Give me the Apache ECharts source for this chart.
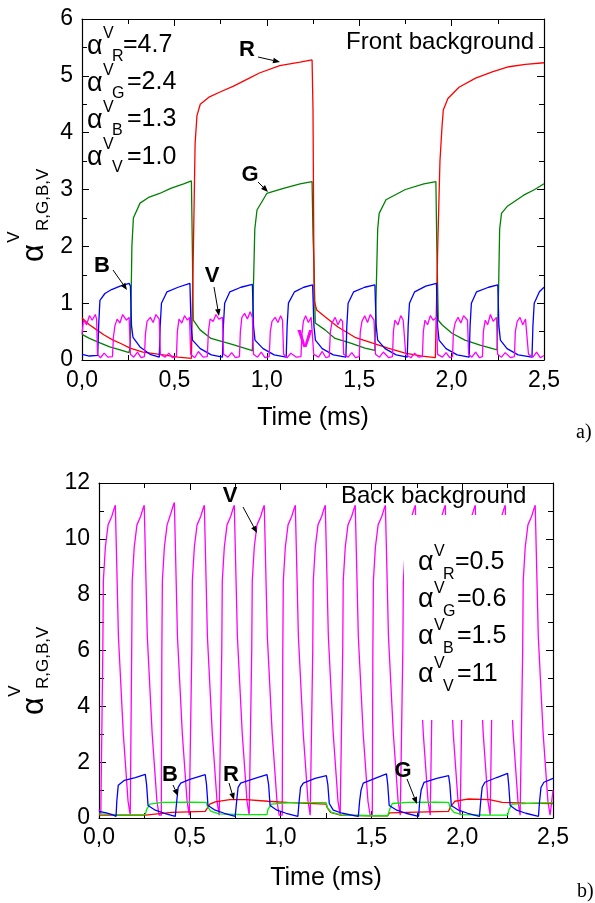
<!DOCTYPE html>
<html><head><meta charset="utf-8">
<script src="https://cdn.jsdelivr.net/npm/echarts@6/dist/echarts.min.js"></script>
<style>html,body{margin:0;padding:0;background:#fff}#c{width:595px;height:903px}</style>
</head><body><div id="c"></div>
<script>
// ---------- tick labels ----------
const xTickLabels = ['0,0','0,5','1,0','1,5','2,0','2,5'];
const yTickLabelsTop = ['0','1','2','3','4','5','6'];
const yTickLabelsBottom = ['0','2','4','6','8','10','12'];

// ---------- panel a) Front background : [time ms, alpha] ----------
const topRed = [[0,0.74],[0.04,0.62],[0.08,0.53],[0.12,0.44],[0.168,0.35],[0.21,0.29],[0.26,0.21],[0.33,0.14],[0.44,0.09],[0.52,0.05],[0.592,0.03],[0.597,0.05],[0.603,2.0],[0.612,3.8],[0.622,4.3],[0.64,4.5],[0.69,4.63],[0.75,4.72],[0.82,4.82],[0.9,4.95],[0.96,5.05],[1.07,5.18],[1.18,5.24],[1.245,5.28],[1.25,4.4],[1.256,1.05],[1.27,0.88],[1.315,0.76],[1.385,0.58],[1.477,0.4],[1.569,0.3],[1.656,0.21],[1.748,0.12],[1.84,0.07],[1.912,0.04],[1.918,0.05],[1.925,2.0],[1.937,3.5],[1.948,4.1],[1.955,4.4],[1.98,4.6],[2.04,4.8],[2.13,4.96],[2.22,5.07],[2.31,5.16],[2.4,5.2],[2.5,5.23]];
const topGreen = [[0,0.45],[0.04,0.38],[0.097,0.3],[0.15,0.23],[0.206,0.18],[0.255,0.13],[0.262,0.3],[0.27,2.0],[0.278,2.5],[0.314,2.76],[0.36,2.86],[0.42,2.93],[0.48,3.02],[0.55,3.1],[0.592,3.15],[0.597,2.0],[0.602,0.7],[0.639,0.53],[0.698,0.38],[0.817,0.27],[0.909,0.18],[0.922,0.16],[0.927,1.2],[0.935,2.3],[0.947,2.64],[1.0,2.93],[1.09,3.02],[1.18,3.1],[1.245,3.14],[1.25,2.2],[1.256,1.6],[1.262,0.65],[1.315,0.53],[1.369,0.38],[1.45,0.3],[1.531,0.21],[1.585,0.17],[1.592,1.2],[1.6,2.3],[1.608,2.58],[1.645,2.82],[1.75,3.0],[1.85,3.1],[1.915,3.14],[1.92,2.0],[1.928,0.7],[1.948,0.62],[2.002,0.47],[2.072,0.35],[2.154,0.26],[2.246,0.18],[2.25,0.18],[2.254,1.2],[2.26,2.3],[2.27,2.58],[2.3,2.7],[2.39,2.9],[2.45,3.0],[2.5,3.1]];
const topBlue = [[0,0.1],[0.04,0.07],[0.085,0.08],[0.09,0.6],[0.097,1.05],[0.124,1.17],[0.16,1.24],[0.206,1.3],[0.255,1.35],[0.262,1.3],[0.268,0.6],[0.276,0.4],[0.314,0.23],[0.368,0.1],[0.418,0.05],[0.423,0.6],[0.43,1.0],[0.46,1.2],[0.52,1.28],[0.584,1.35],[0.59,0.6],[0.598,0.35],[0.64,0.2],[0.7,0.09],[0.76,0.05],[0.765,0.6],[0.772,1.0],[0.8,1.2],[0.86,1.28],[0.922,1.33],[0.928,0.6],[0.936,0.35],[0.98,0.2],[1.04,0.09],[1.105,0.05],[1.11,0.6],[1.117,1.0],[1.15,1.2],[1.2,1.28],[1.248,1.32],[1.255,0.6],[1.263,0.35],[1.3,0.2],[1.36,0.09],[1.428,0.05],[1.433,0.6],[1.44,1.0],[1.47,1.2],[1.53,1.28],[1.585,1.32],[1.592,0.6],[1.6,0.35],[1.64,0.2],[1.7,0.09],[1.76,0.05],[1.765,0.6],[1.772,1.0],[1.8,1.2],[1.86,1.3],[1.918,1.35],[1.924,0.6],[1.932,0.35],[1.97,0.2],[2.03,0.09],[2.095,0.05],[2.1,0.6],[2.107,1.0],[2.135,1.2],[2.2,1.28],[2.25,1.32],[2.256,0.6],[2.264,0.35],[2.3,0.2],[2.36,0.09],[2.435,0.05],[2.44,0.6],[2.447,1.0],[2.475,1.2],[2.5,1.28]];
const topMagenta = [[0,0.45],[0.008,0.7],[0.025,0.62],[0.04,0.78],[0.055,0.7],[0.072,0.8],[0.079,0.72],[0.084,0.1],[0.1,0.04],[0.12,0.12],[0.14,0.05],[0.165,0.06],
[0.17,0.4],[0.178,0.6],[0.19,0.72],[0.205,0.65],[0.22,0.8],[0.24,0.7],[0.255,0.75],[0.262,0.1],[0.28,0.05],[0.3,0.14],[0.32,0.04],[0.338,0.06],
[0.343,0.45],[0.352,0.68],[0.37,0.75],[0.385,0.66],[0.4,0.8],[0.418,0.72],[0.424,0.1],[0.45,0.05],[0.47,0.12],[0.49,0.04],[0.511,0.06],
[0.516,0.5],[0.525,0.72],[0.54,0.65],[0.555,0.78],[0.57,0.7],[0.582,0.75],[0.588,0.1],[0.61,0.04],[0.63,0.15],[0.655,0.05],[0.678,0.06],
[0.684,0.5],[0.693,0.72],[0.71,0.68],[0.725,0.8],[0.74,0.72],[0.76,0.75],[0.766,0.1],[0.79,0.05],[0.81,0.13],[0.83,0.04],[0.852,0.06],
[0.857,0.5],[0.865,0.75],[0.88,0.82],[0.895,0.72],[0.91,0.85],[0.922,0.75],[0.928,0.1],[0.95,0.05],[0.97,0.14],[0.99,0.04],[1.013,0.06],
[1.019,0.5],[1.028,0.68],[1.045,0.75],[1.06,0.66],[1.075,0.78],[1.085,0.7],[1.091,0.1],[1.11,0.04],[1.13,0.12],[1.16,0.05],[1.185,0.06],
[1.19,0.45],[1.198,0.68],[1.21,0.78],[1.225,0.66],[1.24,0.75],[1.248,0.72],[1.254,0.1],[1.28,0.05],[1.3,0.15],[1.32,0.04],[1.338,0.06],
[1.344,0.5],[1.352,0.65],[1.37,0.75],[1.385,0.62],[1.4,0.72],[1.41,0.68],[1.416,0.1],[1.44,0.05],[1.46,0.13],[1.48,0.04],[1.5,0.06],
[1.506,0.5],[1.515,0.68],[1.53,0.78],[1.545,0.66],[1.56,0.8],[1.58,0.7],[1.588,0.1],[1.61,0.05],[1.63,0.14],[1.66,0.04],[1.68,0.06],
[1.685,0.5],[1.693,0.7],[1.71,0.62],[1.725,0.78],[1.738,0.7],[1.746,0.72],[1.752,0.1],[1.78,0.04],[1.8,0.12],[1.82,0.05],[1.842,0.06],
[1.847,0.5],[1.856,0.7],[1.87,0.62],[1.885,0.78],[1.9,0.7],[1.918,0.75],[1.924,0.1],[1.95,0.05],[1.97,0.13],[1.99,0.04],[2.005,0.06],
[2.01,0.5],[2.02,0.66],[2.035,0.75],[2.05,0.65],[2.065,0.78],[2.086,0.7],[2.092,0.1],[2.11,0.05],[2.13,0.14],[2.15,0.04],[2.167,0.06],
[2.172,0.5],[2.182,0.7],[2.195,0.62],[2.21,0.8],[2.225,0.68],[2.243,0.75],[2.249,0.1],[2.27,0.05],[2.29,0.13],[2.32,0.04],[2.34,0.06],
[2.345,0.5],[2.355,0.68],[2.37,0.75],[2.385,0.62],[2.4,0.72],[2.41,0.7],[2.416,0.1],[2.44,0.05],[2.46,0.14],[2.48,0.04],[2.5,0.08]];

// ---------- panel b) Back background ----------
const botRed = [[0,0.1],[0.1,0.1],[0.255,0.1],[0.265,0.17],[0.4,0.2],[0.585,0.24],[0.595,0.3],[0.61,0.5],[0.64,0.58],[0.72,0.66],[0.81,0.66],[0.93,0.6],[1.05,0.55],[1.25,0.5],[1.258,0.35],[1.275,0.2],[1.33,0.1],[1.5,0.08],[1.59,0.08],[1.6,0.18],[1.75,0.21],[1.925,0.24],[1.935,0.4],[1.96,0.6],[2.03,0.68],[2.15,0.66],[2.22,0.56],[2.35,0.53],[2.5,0.52]];
const botGreen = [[0,0.15],[0.1,0.12],[0.255,0.12],[0.262,0.3],[0.28,0.5],[0.35,0.56],[0.5,0.57],[0.59,0.56],[0.598,0.4],[0.615,0.25],[0.66,0.15],[0.8,0.12],[0.925,0.12],[0.93,0.3],[0.95,0.5],[1.05,0.55],[1.25,0.55],[1.26,0.35],[1.28,0.2],[1.34,0.1],[1.5,0.08],[1.59,0.08],[1.6,0.3],[1.615,0.52],[1.7,0.56],[1.85,0.57],[1.925,0.56],[1.935,0.35],[1.955,0.2],[2.0,0.12],[2.15,0.1],[2.25,0.1],[2.258,0.3],[2.275,0.5],[2.4,0.53],[2.5,0.55]];
const botBlue = [[0,0.24],[0.04,0.18],[0.08,0.1],[0.094,0.06],[0.098,0.6],[0.106,1.17],[0.14,1.35],[0.2,1.45],[0.255,1.56],[0.262,1.2],[0.27,0.45],[0.31,0.28],[0.36,0.17],[0.42,0.06],[0.428,0.6],[0.436,1.1],[0.45,1.25],[0.5,1.38],[0.585,1.55],[0.592,1.2],[0.6,0.45],[0.64,0.28],[0.69,0.17],[0.75,0.06],[0.758,0.6],[0.766,1.1],[0.78,1.25],[0.85,1.4],[0.925,1.55],[0.934,1.2],[0.942,0.45],[0.98,0.28],[1.03,0.17],[1.095,0.06],[1.102,0.6],[1.11,1.1],[1.125,1.25],[1.19,1.42],[1.252,1.52],[1.26,1.2],[1.268,0.52],[1.29,0.28],[1.34,0.17],[1.428,0.06],[1.435,0.6],[1.443,1.0],[1.455,1.25],[1.52,1.42],[1.583,1.58],[1.59,1.2],[1.598,0.45],[1.64,0.28],[1.69,0.17],[1.76,0.06],[1.766,0.6],[1.774,1.0],[1.79,1.28],[1.86,1.42],[1.925,1.52],[1.932,1.2],[1.94,0.45],[1.98,0.28],[2.03,0.17],[2.095,0.06],[2.102,0.6],[2.11,1.1],[2.125,1.28],[2.19,1.45],[2.25,1.6],[2.256,1.2],[2.264,0.45],[2.3,0.28],[2.35,0.17],[2.42,0.06],[2.426,0.6],[2.434,1.1],[2.45,1.28],[2.5,1.42]];
const botMagenta = [[0,0.3],[0.01,0.15],
[0.018,0.1],[0.021,6.0],[0.024,8.5],[0.035,9.7],[0.05,10.5],[0.07,10.8],[0.084,11.1],[0.09,11.2],[0.107,6.5],[0.134,3.0],[0.16,0.6],[0.172,0.1],
[0.177,0.1],[0.18,6.0],[0.183,8.5],[0.194,9.7],[0.209,10.5],[0.229,10.8],[0.243,11.1],[0.249,11.2],[0.266,6.5],[0.293,3.0],[0.319,0.6],[0.331,0.1],
[0.343,0.1],[0.346,6.0],[0.349,8.5],[0.36,9.7],[0.375,10.5],[0.395,10.9],[0.409,11.2],[0.415,11.3],[0.432,6.5],[0.459,3.0],[0.485,0.6],[0.497,0.1],
[0.508,0.1],[0.511,6.0],[0.514,8.5],[0.525,9.7],[0.54,10.5],[0.56,10.8],[0.574,11.1],[0.58,11.2],[0.597,6.5],[0.624,3.0],[0.65,0.6],[0.662,0.1],
[0.673,0.1],[0.676,6.0],[0.679,8.5],[0.69,9.7],[0.705,10.5],[0.725,10.8],[0.739,11.1],[0.745,11.2],[0.762,6.5],[0.789,3.0],[0.815,0.6],[0.827,0.1],
[0.838,0.1],[0.841,6.0],[0.844,8.5],[0.855,9.7],[0.87,10.5],[0.89,10.8],[0.904,11.1],[0.91,11.2],[0.927,6.5],[0.954,3.0],[0.98,0.6],[0.992,0.1],
[1.009,0.1],[1.012,6.0],[1.015,8.5],[1.026,9.7],[1.041,10.5],[1.061,10.8],[1.075,11.1],[1.081,11.2],[1.098,6.5],[1.125,3.0],[1.151,0.6],[1.163,0.1],
[1.174,0.1],[1.177,6.0],[1.18,8.5],[1.191,9.7],[1.206,10.5],[1.226,10.8],[1.24,11.1],[1.246,11.2],[1.263,6.5],[1.29,3.0],[1.316,0.6],[1.328,0.1],
[1.339,0.1],[1.342,6.0],[1.345,8.5],[1.356,9.7],[1.371,10.5],[1.391,10.8],[1.405,11.1],[1.411,11.2],[1.428,6.5],[1.455,3.0],[1.481,0.6],[1.493,0.1],
[1.505,0.1],[1.508,6.0],[1.511,8.5],[1.522,9.7],[1.537,10.5],[1.557,10.8],[1.571,11.1],[1.577,11.2],[1.594,6.5],[1.621,3.0],[1.647,0.6],[1.659,0.1],
[1.67,0.1],[1.673,6.0],[1.676,8.5],[1.687,9.7],[1.702,10.5],[1.722,10.8],[1.736,11.1],[1.742,11.2],[1.759,6.5],[1.786,3.0],[1.812,0.6],[1.824,0.1],
[1.835,0.1],[1.838,6.0],[1.841,8.5],[1.852,9.7],[1.867,10.5],[1.887,10.8],[1.901,11.1],[1.907,11.2],[1.924,6.5],[1.951,3.0],[1.977,0.6],[1.989,0.1],
[2.0,0.1],[2.003,6.0],[2.006,8.5],[2.017,9.7],[2.032,10.5],[2.052,10.8],[2.066,11.1],[2.072,11.2],[2.089,6.5],[2.116,3.0],[2.142,0.6],[2.154,0.1],
[2.165,0.1],[2.168,6.0],[2.171,8.5],[2.182,9.7],[2.197,10.5],[2.217,10.8],[2.231,11.1],[2.237,11.2],[2.254,6.5],[2.281,3.0],[2.307,0.6],[2.319,0.1],
[2.33,0.1],[2.333,6.0],[2.336,8.5],[2.347,9.7],[2.362,10.5],[2.382,10.8],[2.396,11.1],[2.402,11.2],[2.419,6.5],[2.446,3.0],[2.472,0.6],[2.484,0.1],
[2.495,0.1],[2.5,1.0]];

// ---------- in-plot coefficient annotations ----------
const topCoefSubs = ['R','G','B','V'];
const topCoefVals = ['=4.7','=2.4','=1.3','=1.0'];
const botCoefSubs = ['R','G','B','V'];
const botCoefVals = ['=0.5','=0.6','=1.5','=11'];

// ---------- chart ----------
const FONT = "'Liberation Sans', Arial, Helvetica, sans-serif";
const chart = echarts.init(document.getElementById('c'), null, {renderer:'canvas'});

function xAxisDef(gi, pos, labels){
  return {type:'value', gridIndex:gi, position:pos, min:0, max:2.5, interval:0.5,
    axisLine:{show:true, onZero:false, lineStyle:{color:'#000', width:1.2}},
    axisTick:{show:true, inside:true, length:7, lineStyle:{color:'#000', width:1}},
    minorTick:{show:true, splitNumber:2, length:5, lineStyle:{color:'#000', width:1}},
    splitLine:{show:false},
    axisLabel:{show:labels, margin: gi===0?9:8, color:'#000', fontSize:23, fontFamily:FONT,
      formatter:(v)=>xTickLabels[Math.round(v/0.5)]}};
}
function yAxisDef(gi, pos, max, interval, labels, lbls){
  return {type:'value', gridIndex:gi, position:pos, min:0, max:max, interval:interval,
    axisLine:{show:true, onZero:false, lineStyle:{color:'#000', width:1.2}},
    axisTick:{show:true, inside:true, length:7, lineStyle:{color:'#000', width:1}},
    minorTick:{show:true, splitNumber:2, length:5, lineStyle:{color:'#000', width:1}},
    splitLine:{show:false},
    axisLabel:{show:labels, margin:9, color:'#000', fontSize:23, fontFamily:FONT,
      formatter:(v)=>lbls? lbls[Math.round(v/interval)] : ''}};
}
function line(data, color, xi, yi, z){
  return {type:'line', data:data, xAxisIndex:xi, yAxisIndex:yi, showSymbol:false, symbol:'none',
    lineStyle:{color:color, width:1.3}, itemStyle:{color:color}, z:z||2, animation:false, clip:true};
}

function T(x,y,text,size,extra){
  extra = extra||{};
  return {type:'text', x:x, y:y, z:extra.z||110, rotation:extra.rot||0,
    style:{text:text, fontSize:size, fontFamily:extra.font||FONT, fontWeight:extra.bold?'bold':'normal',
      fill:extra.color||'#000', align:extra.align||'left', verticalAlign:'middle'}};
}
function arrow(x1,y1,x2,y2){
  const a=Math.atan2(y2-y1,x2-x1), L=7, W=2.8;
  const bx=x2-L*Math.cos(a), by=y2-L*Math.sin(a);
  return [{type:'line', z:110, shape:{x1:x1,y1:y1,x2:bx,y2:by}, style:{stroke:'#000',lineWidth:1}},
    {type:'polygon', z:110, shape:{points:[[x2,y2],[bx+W*Math.sin(a),by-W*Math.cos(a)],[bx-W*Math.sin(a),by+W*Math.cos(a)]]}, style:{fill:'#000'}}];
}
function coefBlock(x0, centers, subs, vals, valXs, supDy, subDy){
  const out=[];
  for(let i=0;i<subs.length;i++){
    const cy=centers[i];
    out.push(T(x0, cy, 'α', 27));
    out.push(T(x0+16, cy+supDy, 'V', 16));
    out.push(T(x0+25, cy+subDy, subs[i], 16));
    out.push(T(valXs[i], cy-1, vals[i], 25));
  }
  return out;
}

const graphics = [].concat(
  // panel a texts
  [T(346, 42, 'Front background', 24)],
  coefBlock(87, [46.5, 83.5, 120.5, 158], topCoefSubs, topCoefVals, [123,127,127,127], -13, 10),
  [T(247, 50, 'R', 22, {bold:true, align:'center'}),
   T(250, 175, 'G', 22, {bold:true, align:'center'}),
   T(102, 266, 'B', 22, {bold:true, align:'center'}),
   T(212, 276, 'V', 22, {bold:true, align:'center'}),
   T(305, 341, 'V', 23, {bold:true, align:'center', color:'#ff00ff'})],
  arrow(258,57,280,62), arrow(258,182,268,192), arrow(113,270,127,290), arrow(214,287,219,316),
  [T(313, 418, 'Time (ms)', 25, {align:'center'}),
   T(576, 433, 'a)', 20, {font:"'Liberation Serif', 'Times New Roman', serif"})],
  // y axis title panel a
  [T(34, 253, 'α', 31, {rot:Math.PI/2, align:'center'}),
   T(14, 237, 'V', 17, {rot:Math.PI/2, align:'center'}),
   T(43, 231, 'R,G,B,V', 17, {rot:Math.PI/2, align:'left'})],
  // panel b
  [{type:'rect', z:100, shape:{x:404, y:515, width:117, height:205}, style:{fill:'#fff'}}],
  [T(341, 496, 'Back background', 24)],
  coefBlock(418, [563, 600, 637, 675], botCoefSubs, botCoefVals, [455,457,457,457], -11, 12),
  [T(230, 496, 'V', 22, {bold:true, align:'center'}),
   T(170, 775, 'B', 22, {bold:true, align:'center'}),
   T(231, 775, 'R', 22, {bold:true, align:'center'}),
   T(403, 771, 'G', 22, {bold:true, align:'center'})],
  arrow(243,507,257,533), arrow(173,785,178,796), arrow(229,783,234,800), arrow(407,779,417,804),
  [T(326, 878, 'Time (ms)', 25, {align:'center'}),
   T(577, 892, 'b)', 20, {font:"'Liberation Serif', 'Times New Roman', serif"})],
  [T(34, 706, 'α', 31, {rot:Math.PI/2, align:'center'}),
   T(15, 691, 'V', 17, {rot:Math.PI/2, align:'center'}),
   T(43, 689, 'R,G,B,V', 17, {rot:Math.PI/2, align:'left'})]
);

chart.setOption({
  animation:false,
  backgroundColor:'#fff',
  grid:[{left:82, top:19, width:462, height:341, containLabel:false},
        {left:99, top:483, width:454, height:335, containLabel:false}],
  xAxis:[xAxisDef(0,'bottom',true), xAxisDef(0,'top',false), xAxisDef(1,'bottom',true), xAxisDef(1,'top',false)],
  yAxis:[yAxisDef(0,'left',6,1,true,yTickLabelsTop), yAxisDef(0,'right',6,1,false,null),
         yAxisDef(1,'left',12,2,true,yTickLabelsBottom), yAxisDef(1,'right',12,2,false,null)],
  series:[
    line(topGreen,'#008000',0,0,2), line(topRed,'#ff0000',0,0,3), line(topBlue,'#0000ff',0,0,4), line(topMagenta,'#ff00ff',0,0,5),
    line(botMagenta,'#ff00ff',2,2,2), line(botRed,'#ff0000',2,2,3), line(botGreen,'#00ee00',2,2,4), line(botBlue,'#0000ff',2,2,5)
  ],
  graphic:{elements:graphics}
});
</script></body></html>
